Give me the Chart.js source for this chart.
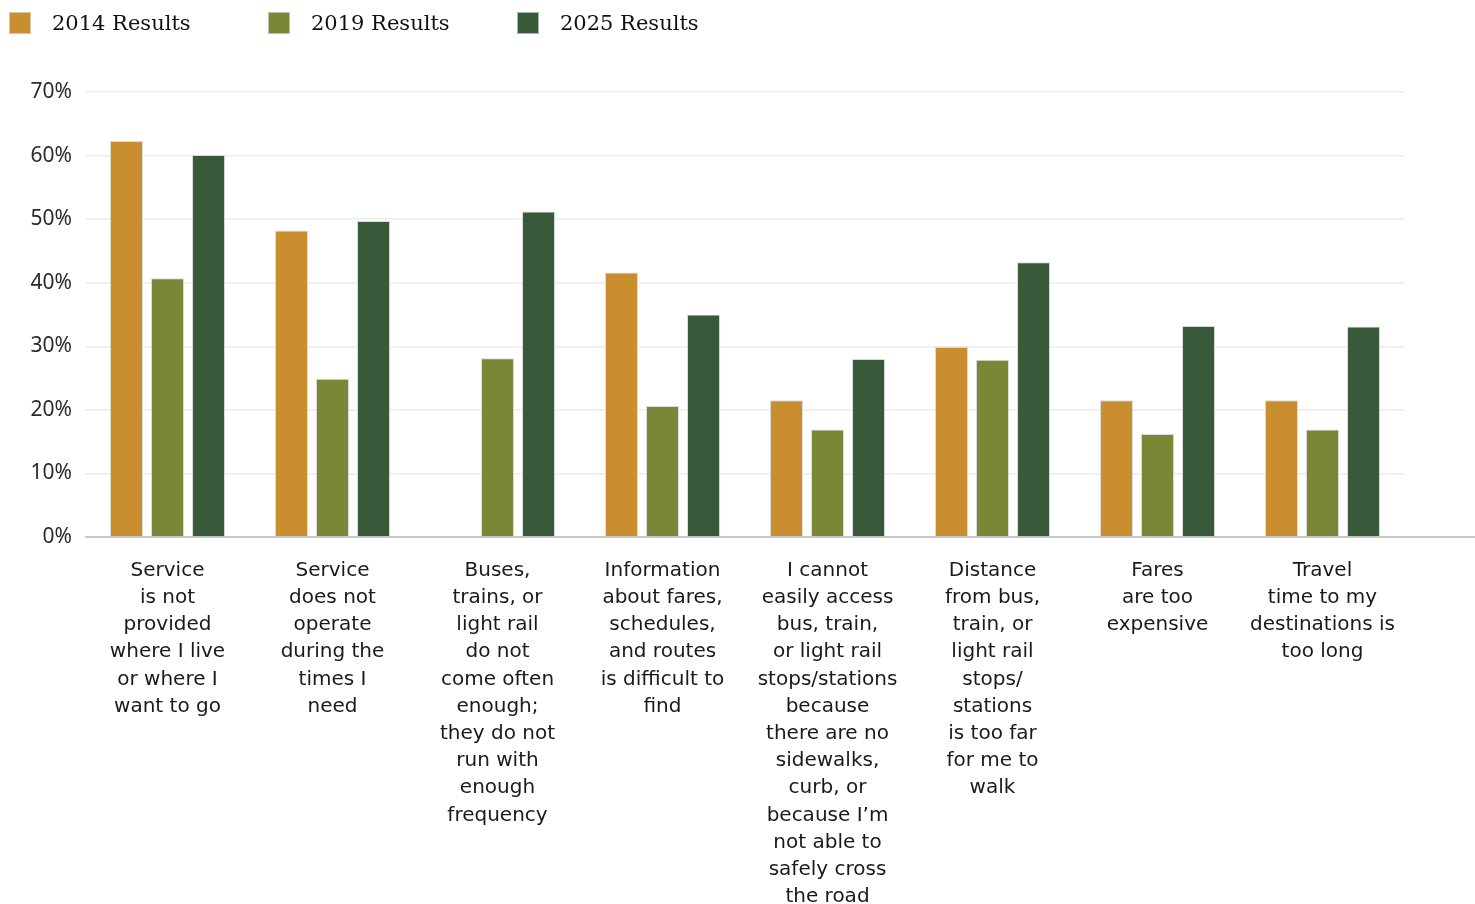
<!DOCTYPE html>
<html>
<head>
<meta charset="utf-8">
<script src="https://cdn.jsdelivr.net/npm/chart.js@4.4.1/dist/chart.umd.min.js"></script>
<style>
  html, body { margin: 0; padding: 0; background: #ffffff; }
  #wrap { position: relative; width: 1475px; height: 904px; overflow: hidden; }
  #chart { position: absolute; left: 0; top: 0; }
  #legend { position: absolute; left: 9px; top: 11px; display: flex; font-family: "DejaVu Serif", "Liberation Serif", serif; font-size: 21px; color: #111111; }
  .lg-item { display: flex; align-items: center; }
  .lg-item:nth-child(1) { width: 259px; }
  .lg-item:nth-child(2) { width: 249px; }
  .lg-box { width: 22px; height: 22px; box-sizing: border-box; border: 1px solid rgba(220,220,220,0.7); margin-right: 21px; }
</style>
</head>
<body>
<div id="wrap">
  <canvas id="chart" width="1475" height="904"></canvas>
  <div id="legend"></div>
</div>
<script>
// ---- Data ----
const categories = [
  ["Service", "is not", "provided", "where I live", "or where I", "want to go"],
  ["Service", "does not", "operate", "during the", "times I", "need"],
  ["Buses,", "trains, or", "light rail", "do not", "come often", "enough;", "they do not", "run with", "enough", "frequency"],
  ["Information", "about fares,", "schedules,", "and routes", "is difficult to", "find"],
  ["I cannot", "easily access", "bus, train,", "or light rail", "stops/stations", "because", "there are no", "sidewalks,", "curb, or", "because I\u2019m", "not able to", "safely cross", "the road"],
  ["Distance", "from bus,", "train, or", "light rail", "stops/", "stations", "is too far", "for me to", "walk"],
  ["Fares", "are too", "expensive"],
  ["Travel", "time to my", "destinations is", "too long"]
];
const seriesNames = ["2014 Results", "2019 Results", "2025 Results"];
const results2014 = [62.3, 48.2, null, 41.6, 21.5, 29.9, 21.5, 21.5];
const results2019 = [40.7, 24.9, 28.1, 20.6, 16.9, 27.9, 16.2, 16.9];
const results2025 = [60.1, 49.7, 51.2, 35.0, 28.0, 43.2, 33.2, 33.1];
const yTickValues = [0, 10, 20, 30, 40, 50, 60, 70];
const seriesColors = ["#C98E2E", "#7A8737", "#385A3A"];

// ---- Plugins ----
const axisLinePlugin = {
  id: 'axisLine',
  beforeDatasetsDraw(chart) {
    const ctx = chart.ctx;
    const y0 = chart.scales.y.getPixelForValue(0);
    ctx.save();
    ctx.strokeStyle = '#c8c8c8';
    ctx.lineWidth = 2;
    ctx.beginPath();
    ctx.moveTo(chart.chartArea.left, y0);
    ctx.lineTo(chart.width, y0);
    ctx.stroke();
    ctx.restore();
  }
};

const seriesData = [results2014, results2019, results2025];

const chart = new Chart(document.getElementById('chart'), {
  type: 'bar',
  data: {
    labels: categories,
    datasets: seriesNames.map((name, i) => ({
      label: name,
      data: seriesData[i],
      backgroundColor: seriesColors[i],
      borderColor: 'rgba(215,215,215,0.9)',
      borderWidth: 1,
      categoryPercentage: 0.746,
      barPercentage: 0.805
    }))
  },
  options: {
    responsive: false,
    animation: false,
    devicePixelRatio: 1,
    layout: { padding: { top: 92, right: 70, left: 0, bottom: 0 } },
    plugins: {
      legend: { display: false },
      tooltip: { enabled: false },
      title: { display: false }
    },
    scales: {
      x: {
        type: 'category',
        grid: { display: false, drawTicks: false },
        border: { display: false },
        ticks: {
          autoSkip: false,
          maxRotation: 0,
          minRotation: 0,
          padding: 20,
          color: '#1a1a1a',
          font: { family: '"DejaVu Sans", Verdana, sans-serif', size: 20, lineHeight: '27.2px' }
        },
        afterFit(scale) { scale.height = 367; }
      },
      y: {
        min: 0,
        max: 70,
        afterBuildTicks(scale) { scale.ticks = yTickValues.map(v => ({ value: v })); },
        grid: {
          drawTicks: false,
          color: (c) => (c.tick && c.tick.value === 0) ? 'rgba(0,0,0,0)' : '#ececec',
          lineWidth: 1.5
        },
        border: { display: false },
        ticks: {
          padding: 13,
          color: '#2a2a2a',
          font: { family: '"Noto Sans", "Open Sans", sans-serif', size: 21 },
          callback: (v) => v + '%'
        },
        afterFit(scale) { scale.width = 85; }
      }
    }
  },
  plugins: [axisLinePlugin]
});

// ---- HTML legend from datasets ----
const legendEl = document.getElementById('legend');
chart.data.datasets.forEach(ds => {
  const item = document.createElement('div');
  item.className = 'lg-item';
  const box = document.createElement('span');
  box.className = 'lg-box';
  box.style.background = ds.backgroundColor;
  const txt = document.createElement('span');
  txt.textContent = ds.label;
  item.appendChild(box);
  item.appendChild(txt);
  legendEl.appendChild(item);
});
</script>
</body>
</html>
